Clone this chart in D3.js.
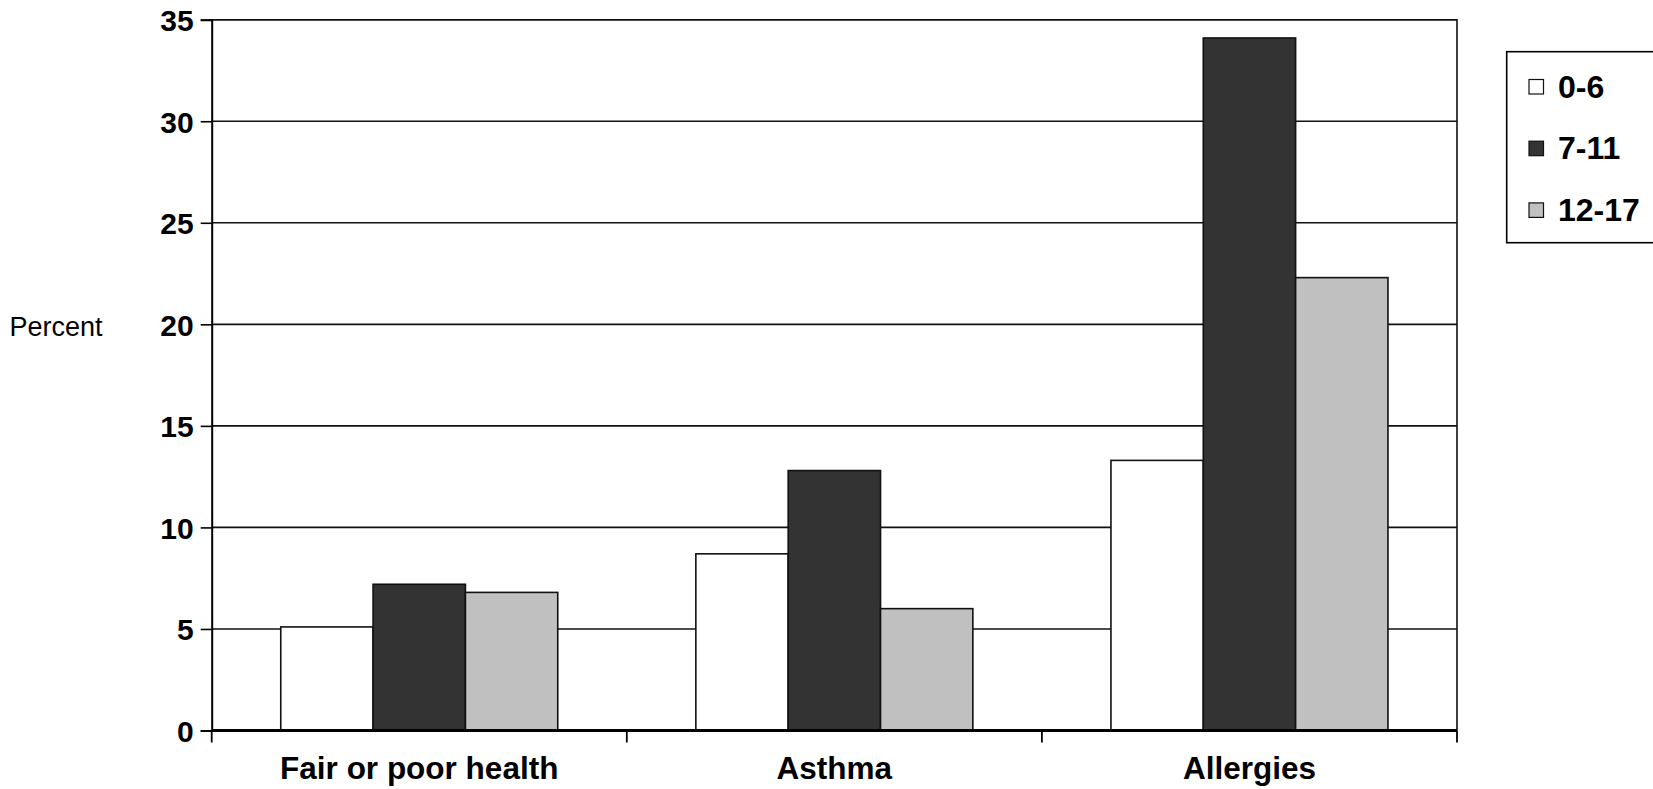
<!DOCTYPE html>
<html>
<head>
<meta charset="utf-8">
<script src="https://cdn.jsdelivr.net/npm/d3@7"></script>
<style>
  html, body { margin: 0; padding: 0; background: #ffffff; }
  svg { display: block; }
  text { font-family: "Liberation Sans", Arial, sans-serif; fill: #000; }
</style>
</head>
<body>
<svg id="chart" width="1653" height="789"></svg>
<script>
// Health indicators by age group (percent)
const categories = ["Fair or poor health", "Asthma", "Allergies"];
const seriesNames = ["0-6", "7-11", "12-17"];
const values_0_6 = [5.1, 8.7, 13.3];
const values_7_11 = [7.2, 12.8, 34.1];
const values_12_17 = [6.8, 6.0, 22.3];
const yTicks = [0, 5, 10, 15, 20, 25, 30, 35];
const seriesFill = ["#ffffff", "#333333", "#c0c0c0"];

const seriesValues = [values_0_6, values_7_11, values_12_17];
const rows = categories.map((c, i) => ({
  category: c,
  values: seriesNames.map((s, j) => ({ series: s, value: seriesValues[j][i] }))
}));

const svg = d3.select("#chart");
const plot = { left: 211.7, right: 1457, top: 19.7, bottom: 730.5 };

const x0 = d3.scaleBand().domain(categories).range([plot.left, plot.right]).paddingInner(0).paddingOuter(0);
const groupWidth = 277;
const x1 = d3.scaleBand().domain(seriesNames)
  .range([(x0.bandwidth() - groupWidth) / 2, (x0.bandwidth() + groupWidth) / 2]).padding(0);
const y = d3.scaleLinear().domain([0, 35]).range([plot.bottom, plot.top]);
const color = d3.scaleOrdinal().domain(seriesNames).range(seriesFill);

// Horizontal gridlines
svg.append("g")
  .selectAll("line")
  .data(yTicks.filter(t => t > 0))
  .join("line")
  .attr("x1", plot.left).attr("x2", plot.right)
  .attr("y1", d => y(d)).attr("y2", d => y(d))
  .attr("stroke", "#111").attr("stroke-width", 1.6);

// Bars
svg.append("g")
  .selectAll("g")
  .data(rows)
  .join("g")
  .attr("transform", d => `translate(${x0(d.category)},0)`)
  .selectAll("rect")
  .data(d => d.values)
  .join("rect")
  .attr("x", d => x1(d.series))
  .attr("width", x1.bandwidth())
  .attr("y", d => y(d.value))
  .attr("height", d => y(0) - y(d.value))
  .attr("fill", d => color(d.series))
  .attr("stroke", "#111")
  .attr("stroke-width", 1.6);

// Plot frame (top and right)
svg.append("path")
  .attr("d", `M${plot.left},${plot.top}H${plot.right}V${plot.bottom}`)
  .attr("fill", "none").attr("stroke", "#111").attr("stroke-width", 1.6);

// Y axis
const yAxis = d3.axisLeft(y).tickValues(yTicks).tickSize(11).tickPadding(7).tickFormat(d3.format("d"));
const gy = svg.append("g").attr("transform", `translate(${plot.left},0)`).call(yAxis);
gy.select(".domain").attr("stroke", "#000").attr("stroke-width", 2);
gy.selectAll(".tick line").attr("stroke", "#000").attr("stroke-width", 1.6);
gy.selectAll(".tick text")
  .attr("font-family", "'Liberation Sans', Arial, sans-serif")
  .attr("font-size", 30).attr("font-weight", "bold").attr("fill", "#000")
  .attr("dy", "0.36em");

// X axis: category boundary ticks
const xAxisG = svg.append("g").attr("transform", `translate(0,${plot.bottom})`);
xAxisG.append("line")
  .attr("x1", plot.left).attr("x2", plot.right)
  .attr("stroke", "#000").attr("stroke-width", 3);
const boundaries = categories.map(c => x0(c)).concat([x0(categories[categories.length - 1]) + x0.bandwidth()]);
xAxisG.selectAll("line.bt")
  .data(boundaries)
  .join("line")
  .attr("class", "bt")
  .attr("x1", d => d).attr("x2", d => d)
  .attr("y1", 0).attr("y2", 12)
  .attr("stroke", "#000").attr("stroke-width", 1.8);
xAxisG.selectAll("text")
  .data(categories)
  .join("text")
  .attr("x", d => x0(d) + x0.bandwidth() / 2)
  .attr("y", 48)
  .attr("text-anchor", "middle")
  .attr("font-size", 31.5).attr("font-weight", "bold")
  .text(d => d);

// Y axis title
svg.append("text")
  .attr("x", 56).attr("y", 336)
  .attr("text-anchor", "middle")
  .attr("font-size", 27)
  .text("Percent");

// Legend
const legend = svg.append("g");
legend.append("rect")
  .attr("x", 1506.7).attr("y", 51.7)
  .attr("width", 200).attr("height", 191)
  .attr("fill", "#fff").attr("stroke", "#000").attr("stroke-width", 1.6);
const items = legend.selectAll("g.item")
  .data(seriesNames)
  .join("g")
  .attr("class", "item")
  .attr("transform", (d, i) => `translate(0,${79.5 + i * 61.7})`);
items.append("rect")
  .attr("x", 1529).attr("y", 0)
  .attr("width", 14.5).attr("height", 14.5)
  .attr("fill", d => color(d))
  .attr("stroke", "#111").attr("stroke-width", 1.2);
items.append("text")
  .attr("x", 1558).attr("y", 18)
  .attr("font-size", 32).attr("font-weight", "bold")
  .text(d => d);
</script>
</body>
</html>
